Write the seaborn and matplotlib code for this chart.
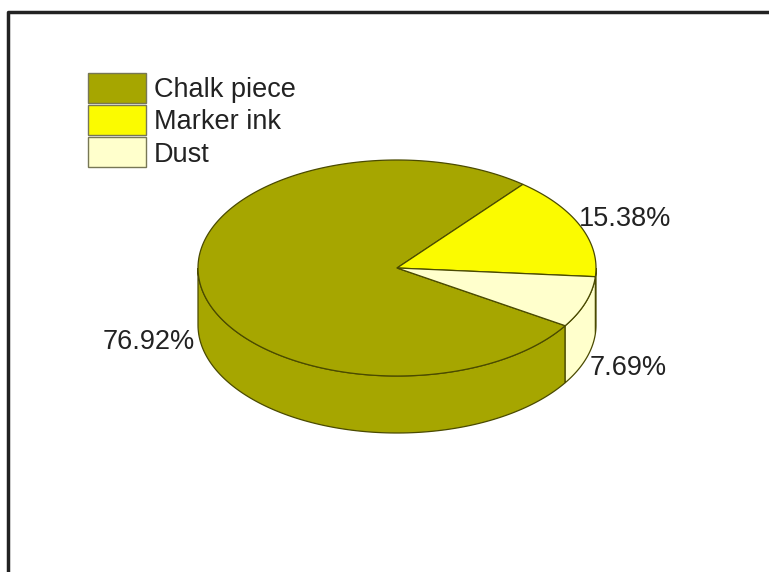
import numpy as np
import matplotlib
matplotlib.use("Agg")
import matplotlib.pyplot as plt
from matplotlib.patches import Polygon, Patch
import seaborn as sns

# Composition shares (percent)
categories = ["Chalk piece", "Marker ink", "Dust"]
shares = [76.92, 15.38, 7.69]
colors = ["#a6a600", "#fbfb00", "#ffffcc"]
edge = "#4a4a00"

sns.set_theme(style="white")
plt.rcParams["font.family"] = ["Liberation Sans", "DejaVu Sans"]

W, H = 769, 572
fig = plt.figure(figsize=(W / 100, H / 100), dpi=100)
ax = fig.add_axes([0, 0, 1, 1])
ax.set_xlim(0, W)
ax.set_ylim(H, 0)
ax.axis("off")

# frame around the plot page
ax.plot([8, 8, W + 5], [H + 5, 12, 12], color="#222222", lw=2.5,
        solid_capstyle="butt", zorder=0)

# pie geometry (screen pixels)
cx, cy = 397, 268
ra, rb = 199, 108
depth = 57
start = -32.3  # wedges run clockwise from here

fr = np.asarray(shares) / np.sum(shares)
cum = np.concatenate([[0], np.cumsum(fr)]) * 360.0
# counter-clockwise interval [lo, hi] for each wedge
spans = [(start - cum[i + 1], start - cum[i]) for i in range(len(shares))]


def pt(t, dz=0.0):
    r = np.radians(t)
    return cx + ra * np.cos(r), cy - rb * np.sin(r) + dz


# outer walls: only the front half (180..360 deg) is visible
for (lo, hi), c in zip(spans, colors):
    for shift in range(-720, 1081, 360):
        a0, a1 = max(lo + shift, 180), min(hi + shift, 360)
        if a1 - a0 > 0.05:
            tt = np.linspace(a0, a1, 120)
            top = [pt(t) for t in tt]
            bot = [pt(t, depth) for t in tt[::-1]]
            ax.add_patch(Polygon(top + bot, closed=True, facecolor=c,
                                 edgecolor=edge, lw=0.9, zorder=2))

# top faces
for (lo, hi), c in zip(spans, colors):
    tt = np.linspace(lo, hi, 300)
    verts = [(cx, cy)] + [pt(t) for t in tt]
    ax.add_patch(Polygon(verts, closed=True, facecolor=c, edgecolor=edge,
                         lw=0.9, joinstyle="miter", zorder=3))

# percentage labels at each wedge's mid-angle
nudges = [(-6, 57, "right", "center"),
          (-1, -7, "left", "center"),
          (4, 66, "left", "center")]
for (lo, hi), v, (dx, dy, ha, va) in zip(spans, shares, nudges):
    x0, y0 = pt((lo + hi) / 2)
    ax.text(x0 + dx, y0 + dy, f"{v:.2f}%", ha=ha, va=va, fontsize=19.5,
            color="#222222", zorder=5)

handles = [Patch(facecolor=c, edgecolor="#777755", lw=1.0) for c in colors]
leg = ax.legend(handles, categories, loc="upper left",
                bbox_to_anchor=(69 / W, 1 - 54 / H), frameon=False,
                fontsize=19.5, handlelength=2.15, handleheight=1.33,
                handletextpad=0.28, labelspacing=0.08, borderpad=0.2)
for t in leg.get_texts():
    t.set_color("#222222")

fig.savefig("out.png", dpi=100)
